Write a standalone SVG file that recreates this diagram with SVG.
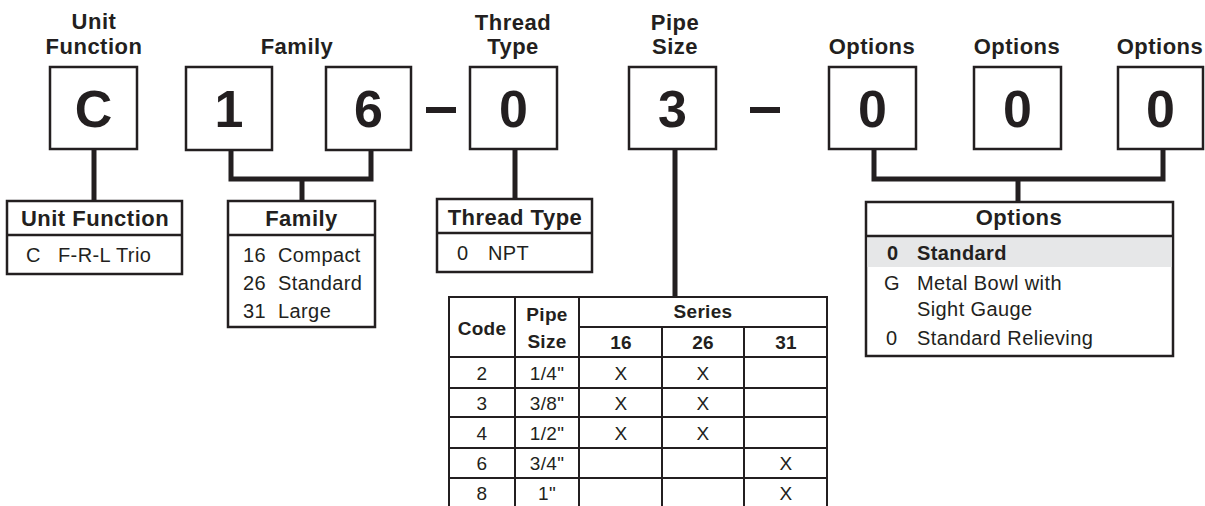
<svg xmlns="http://www.w3.org/2000/svg" width="1205" height="506" viewBox="0 0 1205 506">
<style>
text{font-family:"Liberation Sans",Arial,sans-serif;fill:#231f20}
.t{font-size:22px;font-weight:bold;text-anchor:middle;letter-spacing:0.5px}
.big{font-size:52px;font-weight:bold;text-anchor:middle}
.r{font-size:20px;letter-spacing:0.4px}
.rb{font-size:20px;font-weight:bold;letter-spacing:0.4px}
.p{font-size:19px;text-anchor:middle;letter-spacing:0.3px}
.pb{font-size:19px;font-weight:bold;text-anchor:middle;letter-spacing:0.3px}
.box{fill:#fff;stroke:#231f20;stroke-width:2.5}
.tl{stroke:#231f20;stroke-width:2.5;fill:none}
.pl{stroke:#231f20;stroke-width:2;fill:none}
.c{stroke:#231f20;stroke-width:5;fill:none;stroke-linejoin:miter;stroke-linecap:butt}
</style>
<rect width="1205" height="506" fill="#fff"/>
<g id="connectors">
<polyline class="c" points="94,149 94,201"/>
<polyline class="c" points="231,150 231,179 371,179 371,150"/>
<polyline class="c" points="302,179 302,201"/>
<polyline class="c" points="515,149 515,199"/>
<polyline class="c" points="675,149 675,297"/>
<polyline class="c" points="874,149 874,179 1163,179 1163,149"/>
<polyline class="c" points="1018,179 1018,202"/>
<rect x="426" y="107" width="30" height="6" fill="#231f20"/>
<rect x="750" y="107" width="30" height="6" fill="#231f20"/>
</g>
<g id="box-unit-function">
<text class="t" x="94" y="29">Unit</text>
<text class="t" x="94" y="54">Function</text>
<rect class="box" x="50" y="67" width="87" height="82"/>
<text class="big" x="93.5" y="127">C</text>
</g>
<g id="box-family-1">
<rect class="box" x="186" y="67" width="86" height="83"/>
<text class="big" x="229" y="127">1</text>
</g>
<g id="box-family-6">
<text class="t" x="297" y="54">Family</text>
<rect class="box" x="326" y="67" width="85" height="83"/>
<text class="big" x="368.5" y="127">6</text>
</g>
<g id="box-thread">
<text class="t" x="513" y="30">Thread</text>
<text class="t" x="513" y="54">Type</text>
<rect class="box" x="470" y="67" width="87" height="82"/>
<text class="big" x="513.5" y="127">0</text>
</g>
<g id="box-pipe">
<text class="t" x="675" y="30">Pipe</text>
<text class="t" x="675" y="54">Size</text>
<rect class="box" x="629" y="67" width="87" height="82"/>
<text class="big" x="672.5" y="127">3</text>
</g>
<g id="box-options-1">
<text class="t" x="872" y="54">Options</text>
<rect class="box" x="829" y="67" width="87" height="82"/>
<text class="big" x="872.5" y="127">0</text>
</g>
<g id="box-options-2">
<text class="t" x="1017" y="54">Options</text>
<rect class="box" x="974" y="67" width="87" height="82"/>
<text class="big" x="1017.5" y="127">0</text>
</g>
<g id="box-options-3">
<text class="t" x="1160" y="54">Options</text>
<rect class="box" x="1118" y="67" width="85" height="82"/>
<text class="big" x="1160.5" y="127">0</text>
</g>
<g id="table-unit-function">
<rect class="box" x="7" y="201" width="175" height="73"/>
<line class="tl" x1="7" y1="235" x2="182" y2="235"/>
<text class="t" x="95" y="226">Unit Function</text>
<text class="r" x="26" y="262">C</text>
<text class="r" x="58" y="262">F-R-L Trio</text>
</g>
<g id="table-family">
<rect class="box" x="228" y="201" width="147" height="126"/>
<line class="tl" x1="228" y1="235" x2="375" y2="235"/>
<text class="t" x="301.5" y="226">Family</text>
<text class="r" x="243" y="262">16</text><text class="r" x="278" y="262">Compact</text>
<text class="r" x="243" y="290">26</text><text class="r" x="278" y="290">Standard</text>
<text class="r" x="243" y="318">31</text><text class="r" x="278" y="318">Large</text>
</g>
<g id="table-thread">
<rect class="box" x="437" y="199" width="155" height="73"/>
<line class="tl" x1="437" y1="233" x2="592" y2="233"/>
<text class="t" x="515" y="225">Thread Type</text>
<text class="r" x="457" y="260">0</text>
<text class="r" x="488" y="260">NPT</text>
</g>
<g id="table-options">
<rect class="box" x="866" y="202" width="307" height="154"/>
<rect x="867.5" y="237" width="304" height="30" fill="#e6e7e8"/>
<line class="tl" x1="866" y1="236" x2="1173" y2="236"/>
<text class="t" x="1019" y="225">Options</text>
<text class="rb" x="887" y="260">0</text><text class="rb" x="917" y="260">Standard</text>
<text class="r" x="884" y="290">G</text><text class="r" x="917" y="290">Metal Bowl with</text>
<text class="r" x="917" y="316">Sight Gauge</text>
<text class="r" x="886" y="345">0</text><text class="r" x="917" y="345">Standard Relieving</text>
</g>
<g id="table-pipe-size">
<rect x="449" y="297" width="378" height="215" fill="#fff" stroke="#231f20" stroke-width="2"/>
<line class="pl" x1="515" y1="297" x2="515" y2="512"/>
<line class="pl" x1="579" y1="297" x2="579" y2="512"/>
<line class="pl" x1="662" y1="327" x2="662" y2="512"/>
<line class="pl" x1="744" y1="327" x2="744" y2="512"/>
<line class="pl" x1="579" y1="327" x2="827" y2="327"/>
<line class="pl" x1="449" y1="357" x2="827" y2="357"/>
<line class="pl" x1="449" y1="388" x2="827" y2="388"/>
<line class="pl" x1="449" y1="417" x2="827" y2="417"/>
<line class="pl" x1="449" y1="448" x2="827" y2="448"/>
<line class="pl" x1="449" y1="478" x2="827" y2="478"/>
<text class="pb" x="482" y="335">Code</text>
<text class="pb" x="547" y="321">Pipe</text>
<text class="pb" x="547" y="348">Size</text>
<text class="pb" x="703" y="318">Series</text>
<text class="pb" x="621" y="349">16</text>
<text class="pb" x="703" y="349">26</text>
<text class="pb" x="786" y="349">31</text>
<text class="p" x="482" y="380">2</text><text class="p" x="547" y="380">1/4"</text><text class="p" x="621" y="380">X</text><text class="p" x="703" y="380">X</text>
<text class="p" x="482" y="410">3</text><text class="p" x="547" y="410">3/8"</text><text class="p" x="621" y="410">X</text><text class="p" x="703" y="410">X</text>
<text class="p" x="482" y="440">4</text><text class="p" x="547" y="440">1/2"</text><text class="p" x="621" y="440">X</text><text class="p" x="703" y="440">X</text>
<text class="p" x="482" y="470">6</text><text class="p" x="547" y="470">3/4"</text><text class="p" x="786" y="470">X</text>
<text class="p" x="482" y="500">8</text><text class="p" x="547" y="500">1"</text><text class="p" x="786" y="500">X</text>
</g>
</svg>
